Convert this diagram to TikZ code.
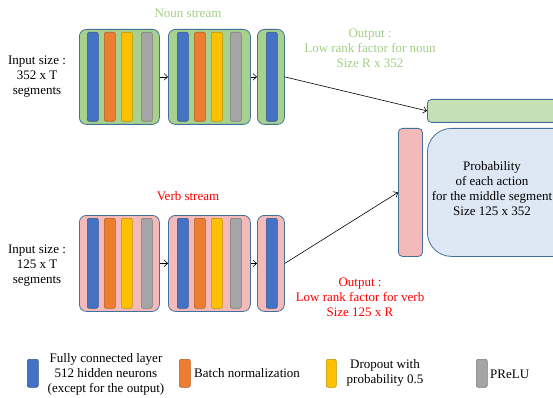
\documentclass[tikz,border=0pt]{standalone}
\usepackage{fontspec}
\setmainfont{Liberation Serif}
\usetikzlibrary{arrows.meta}
\definecolor{edgeblue}{HTML}{41719C}
\definecolor{blkgreen}{HTML}{A9D18E}
\definecolor{blkpink}{HTML}{F4BAB9}
\definecolor{lgreen}{HTML}{C5E0B4}
\definecolor{lblue}{HTML}{DEE7F4}
\definecolor{cblue}{HTML}{4472C4}
\definecolor{corange}{HTML}{ED7D31}
\definecolor{cyellow}{HTML}{FFC000}
\definecolor{cgray}{HTML}{A5A5A5}
\definecolor{nountext}{HTML}{A2CF85}
\definecolor{verbtext}{HTML}{FF0000}
\begin{document}
\begin{tikzpicture}[x=1pt,y=-1pt,
  blk/.style={draw=edgeblue, line width=0.8pt, rounded corners=7pt, inner sep=0pt, anchor=north west},
  bar/.style={draw=#1!75!black, fill=#1, line width=0.6pt, rounded corners=2pt, inner sep=0pt, minimum width=11pt, anchor=north west},
  txt/.style={font=\fontsize{13}{15}\selectfont, align=center, inner sep=0pt},
  conn/.style={-{Straight Barb[length=3.5pt,width=6.5pt]}, line width=0.6pt}]
\useasboundingbox (0,0) rectangle (553,398);

% ---------- Noun stream ----------
\node[txt, text=nountext] (ntitle) at (188,13) {Noun stream};
\node[txt] (nin) at (37,77) {Input size :\\352 x T\\segments};
\node[blk, fill=blkgreen, minimum width=80pt, minimum height=95pt] (n1) at (79,29) {};
\node[bar=cblue,   minimum height=89pt] (n1a) at (87,32) {};
\node[bar=corange, minimum height=89pt] (n1b) at (104,32) {};
\node[bar=cyellow, minimum height=89pt] (n1c) at (121,32) {};
\node[bar=cgray,   minimum height=89pt] (n1d) at (141,32) {};
\node[blk, fill=blkgreen, minimum width=82pt, minimum height=95pt] (n2) at (168,29) {};
\node[bar=cblue,   minimum height=89pt] (n2a) at (177,32) {};
\node[bar=corange, minimum height=89pt] (n2b) at (194,32) {};
\node[bar=cyellow, minimum height=89pt] (n2c) at (211,32) {};
\node[bar=cgray,   minimum height=89pt] (n2d) at (230,32) {};
\node[blk, fill=blkgreen, minimum width=27pt, minimum height=95pt] (n3) at (257,29) {};
\node[bar=cblue,   minimum height=89pt] (n3a) at (266,32) {};
\draw[conn] (n1.east) -- (n2.west);
\draw[conn] (n2.east) -- (n3.west);
\node[txt, text=nountext] (nout) at (370,48) {Output :\\Low rank factor for noun\\Size R x 352};

% ---------- Verb stream ----------
\node[txt, text=verbtext] (vtitle) at (188,196) {Verb stream};
\node[txt] (vin) at (37,266) {Input size :\\125 x T\\segments};
\node[blk, fill=blkpink, minimum width=80pt, minimum height=96pt] (v1) at (79,215) {};
\node[bar=cblue,   minimum height=90pt] (v1a) at (87,218) {};
\node[bar=corange, minimum height=90pt] (v1b) at (104,218) {};
\node[bar=cyellow, minimum height=90pt] (v1c) at (121,218) {};
\node[bar=cgray,   minimum height=90pt] (v1d) at (141,218) {};
\node[blk, fill=blkpink, minimum width=82pt, minimum height=96pt] (v2) at (168,215) {};
\node[bar=cblue,   minimum height=90pt] (v2a) at (177,218) {};
\node[bar=corange, minimum height=90pt] (v2b) at (194,218) {};
\node[bar=cyellow, minimum height=90pt] (v2c) at (211,218) {};
\node[bar=cgray,   minimum height=90pt] (v2d) at (230,218) {};
\node[blk, fill=blkpink, minimum width=27pt, minimum height=96pt] (v3) at (257,215) {};
\node[bar=cblue,   minimum height=90pt] (v3a) at (266,218) {};
\draw[conn] (v1.east) -- (v2.west);
\draw[conn] (v2.east) -- (v3.west);
\node[txt, text=verbtext] (vout) at (360,297) {Output :\\Low rank factor for verb\\Size 125 x R};

% ---------- Product ----------
\node[blk, fill=lgreen, rounded corners=4pt, minimum width=150pt, minimum height=23pt] (gbar) at (427,99) {};
\node[blk, fill=blkpink, rounded corners=4pt, minimum width=24pt, minimum height=128pt] (pbar) at (398,128) {};
\node[blk, fill=lblue, rounded corners=24pt, minimum width=150pt, minimum height=128pt] (prob) at (427,128) {};
\node[txt] (probtxt) at (492,189) {Probability\\of each action\\for the middle segment\\Size 125 x 352};
\draw[conn] (n3.east) -- (gbar.west);
\draw[conn] (v3.east) -- (pbar.west);

% ---------- Legend ----------
\node[bar=cblue,   minimum height=28pt] (lb) at (27,359) {};
\node[txt] (lbt) at (106,374) {Fully connected layer\\512 hidden neurons\\(except for the output)};
\node[bar=corange, minimum height=28pt] (lo) at (179,359) {};
\node[txt, anchor=west] (lot) at (194,373) {Batch normalization};
\node[bar=cyellow, minimum height=28pt, minimum width=10pt] (ly) at (326,359) {};
\node[txt] (lyt) at (385,373) {Dropout with\\probability 0.5};
\node[bar=cgray,   minimum height=28pt] (lg) at (476,359) {};
\node[txt, anchor=west] (lgt) at (490,374) {PReLU};
\end{tikzpicture}
\end{document}
